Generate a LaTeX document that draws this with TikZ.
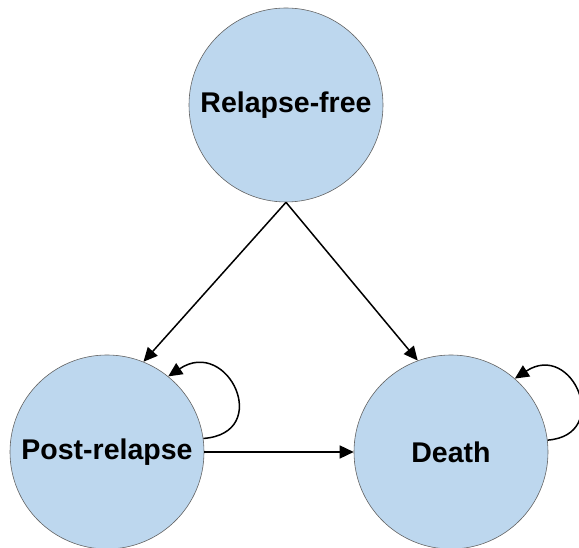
\documentclass[tikz,border=0pt]{standalone}
\usepackage{fontspec}
\setmainfont{Liberation Sans}
\usetikzlibrary{arrows.meta}
\definecolor{stfill}{RGB}{189,215,238}
\definecolor{stline}{RGB}{100,100,100}
\tikzset{
  x=1pt,y=1pt,
  state/.style={circle,draw=stline,line width=0.6pt,fill=stfill,minimum size=194pt,inner sep=0pt,font=\fontsize{28.5}{30}\selectfont\bfseries},
  arr/.style={line width=1.5pt,-{Triangle[length=14pt,width=13pt]}}
}
\begin{document}
\begin{tikzpicture}
\useasboundingbox (0,0) rectangle (579,548);
\node[state] (T) at (286,443) {Relapse-free};
\node[state] (L) at (107,96) {Post-relapse};
\node[state] (R) at (451,96) {Death};
\draw[arr] (T.south) -- (L.68);
\draw[arr] (T.south) -- (R.110);
\draw[arr] (L.east) -- (R.west);
\draw[arr] (L.8) .. controls +(70,5) and +(60,40) .. (L.51);
\draw[arr] (R.7) .. controls +(65,5) and +(58,38) .. (R.49);
\end{tikzpicture}
\end{document}
